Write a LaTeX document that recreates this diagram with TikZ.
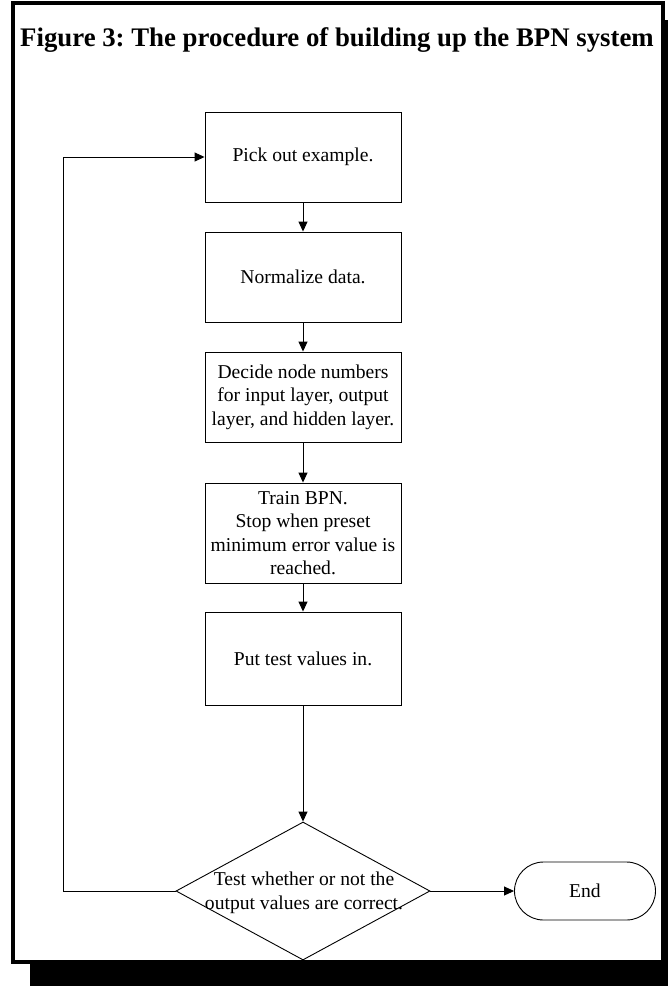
\documentclass[tikz,border=0pt]{standalone}
\usepackage{fontspec}
\setmainfont{Liberation Serif}
\usetikzlibrary{arrows.meta,shapes.geometric,shapes.misc}
\newcommand{\boxfnt}{\fontsize{19.6}{23.5}\selectfont}
\newcommand{\titlefnt}{\fontsize{26.8}{32}\selectfont\bfseries}
\frenchspacing
\begin{document}
\begin{tikzpicture}[x=1pt,y=-1pt,
  stepbox/.style={draw, line width=0.9pt, minimum width=196pt, inner sep=0pt, align=center, font=\boxfnt},
  decision/.style={draw, diamond, line width=0.9pt, minimum width=254pt, minimum height=138pt, inner sep=0pt},
  txt/.style={align=center, font=\boxfnt, inner sep=0pt},
  endbox/.style={draw, rounded rectangle, line width=0.9pt, minimum width=141pt, minimum height=58pt, inner sep=0pt, font=\boxfnt},
  arr/.style={line width=0.9pt, -{Triangle[length=10pt,width=9pt]}},
  line/.style={line width=0.9pt}]
\useasboundingbox (0,0) rectangle (668,986);
% frame with shadow
\fill[black] (30,20) rectangle (700,1000);
\draw[line width=4pt, fill=white] (13,2.5) rectangle (663,962);
% title
\node[font=\titlefnt, inner sep=0pt] (title) at (337,40) {Figure 3: The procedure of building up the BPN system};
% steps
\node[stepbox, minimum height=90pt] (b1) at (303,157) {Pick out example.};
\node[stepbox, minimum height=90pt] (b2) at (303,277) {Normalize data.};
\node[stepbox, minimum height=90pt] (b3) at (303,397) {Decide node numbers\\for input layer, output\\layer, and hidden layer.};
\node[stepbox, minimum height=100pt] (b4) at (303,533) {Train BPN.\\Stop when preset\\minimum error value is\\reached.};
\node[stepbox, minimum height=93pt] (b5) at (303,658.5) {Put test values in.};
\node[decision] (d) at (303,891) {};
\node[txt] (dt) at (304,893) {Test whether or not the\\output values are correct.};
\node[endbox] (e) at (585,891) {End};
\coordinate (fb) at (63,891);
% connectors
\draw[arr] (b1) -- (b2);
\draw[arr] (b2) -- (b3);
\draw[arr] (b3) -- (b4);
\draw[arr] (b4) -- (b5);
\draw[arr] (b5) -- (d);
\draw[arr] (d.east) -- (e.west);
\draw[arr] (d.west) -- (fb) |- (b1.west);
\end{tikzpicture}
\end{document}
